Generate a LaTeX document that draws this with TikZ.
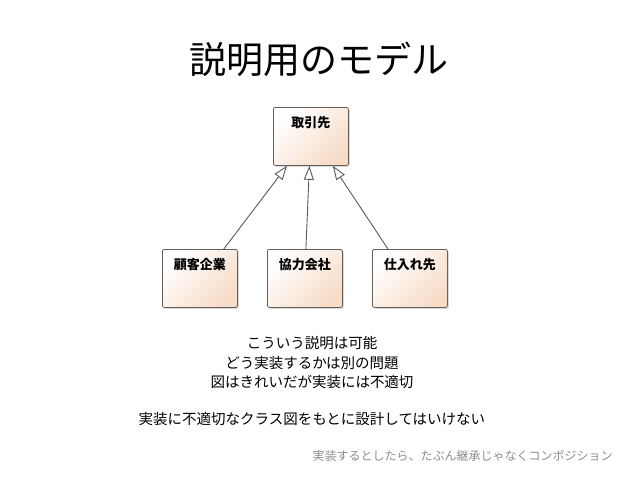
\documentclass[tikz,border=0pt]{standalone}
\usepackage{fontspec}
\setmainfont{Noto Sans CJK JP}
\usepackage{tikz}
\usetikzlibrary{arrows.meta,shapes,shadows,positioning}
\definecolor{peach}{RGB}{247,220,200}
\definecolor{boxline}{RGB}{100,95,90}
\definecolor{noteGray}{RGB}{140,140,140}

\tikzset{classbox/.style =
{draw = boxline, line width = 0.8pt, rounded corners = 2pt,
top color = white, bottom color = peach, shading angle = 45,
drop shadow = {opacity = 0.3, shadow xshift = 1.5pt, shadow yshift = -1.5pt},
minimum width = 75pt, minimum height = 58pt, anchor = north west, inner sep = 0pt}}
\tikzset{classname/.style =
{anchor = north, yshift = -6pt, font = \fontsize{13}{15}\selectfont\bfseries}}
\tikzset{gen/.style =
{draw = black!65, line width = 0.9pt,
-{Triangle[open,length=14pt,width=10pt,fill=white]}}}

\begin{document}
\begin{tikzpicture}[x = 1pt, y = -1pt]
\useasboundingbox (0,0) rectangle (638,479);
%title
\node (title) at (319,59) {\fontsize{37}{40}\selectfont 説明用のモデル};
%classes
\node[classbox, label = {[classname]north:取引先}] (torihiki) at (273,107) {};
\node[classbox, label = {[classname]north:顧客企業}] (kokyaku) at (162,249) {};
\node[classbox, label = {[classname]north:協力会社}] (kyoryoku) at (267,249) {};
\node[classbox, label = {[classname]north:仕入れ先}] (shiire) at (372,249) {};
\draw[gen] ([xshift = -14pt]kokyaku.north east) -- ([xshift = 14pt]torihiki.south west);
\draw[gen] ([xshift = 1pt]kyoryoku.north) -- ([xshift = -1.5pt]torihiki.south);
\draw[gen] ([xshift = 16pt]shiire.north west) -- ([xshift = -16pt]torihiki.south east);
%notes
\node[align = center, font = \fontsize{14.5}{19.5}\selectfont] (note) at (312,363)
{こういう説明は可能\\どう実装するかは別の問題\\図はきれいだが実装には不適切};
\node[anchor = west, font = \fontsize{14.5}{17}\selectfont] (rule) at (135,419)
{実装に不適切なクラス図をもとに設計してはいけない};
\node[anchor = west, text = noteGray, font = \fontsize{12}{14}\selectfont] (hint) at (309,456)
{実装するとしたら、たぶん継承じゃなくコンポジション};
\end{tikzpicture}
\end{document}
